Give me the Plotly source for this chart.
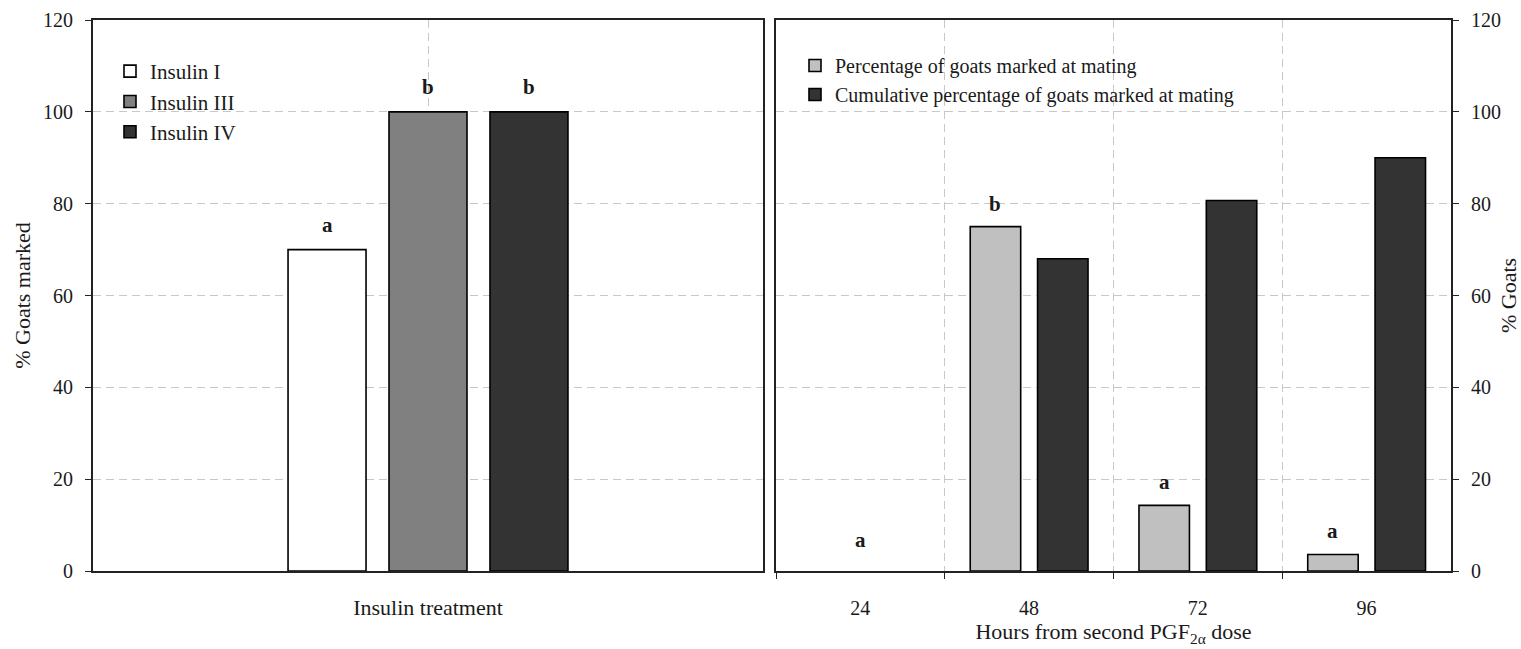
import plotly.graph_objects as go

# ---- data ----
treatment_label = "Insulin treatment"
insulin_groups = ["Insulin I", "Insulin III", "Insulin IV"]
goats_marked = [70, 100, 100]
marked_letters = ["a", "b", "b"]

hours = ["24", "48", "72", "96"]
pct_marked = [0, 75, 14.3, 3.6]
cum_pct_marked = [0, 68, 80.7, 90]
pct_letters = ["a", "b", "a", "a"]

y_ticks = [0, 20, 40, 60, 80, 100, 120]

# ---- styling ----
W, H = 1521, 649
FONT = "Liberation Serif"
INK = "#1a1a1a"
GRID = "#c8c8c8"
TEXT_SIZE = 22
NUM_SIZE = 20
LETTER_SIZE = 21
insulin_colors = ["#ffffff", "#808080", "#333333"]
hour_colors = ["#c0c0c0", "#333333"]


def px_x(p):
    return p / W


def px_y(p):
    return 1 - p / H


# panel geometry (pixels)
left_dom = [px_x(93), px_x(763)]
right_dom = [px_x(776), px_x(1451)]
y_dom = [px_y(571), px_y(20)]

fig = go.Figure()

# left panel: three bars grouped around the single category
slot_l, width_l = 0.1507, 0.1164
for i, (name, val, col) in enumerate(zip(insulin_groups, goats_marked, insulin_colors)):
    centre = (i - 1) * slot_l
    fig.add_trace(go.Bar(
        x=[treatment_label], y=[val], name=name,
        width=width_l, offset=centre - width_l / 2,
        marker=dict(color=col, line=dict(color="#000000", width=1.6)),
        xaxis="x", yaxis="y", legend="legend",
    ))
    fig.add_annotation(
        x=centre, y=val, xref="x", yref="y", text="<b>%s</b>" % marked_letters[i],
        showarrow=False, yshift=25, font=dict(family=FONT, size=LETTER_SIZE, color=INK),
    )

# right panel: percentage and cumulative percentage per time point
# (zero values leave an empty slot instead of a flat outlined bar)
slot_r, width_r = 0.399, 0.299
series = [("Percentage of goats marked at mating", pct_marked),
          ("Cumulative percentage of goats marked at mating", cum_pct_marked)]
for j, (name, vals) in enumerate(series):
    centre = (j - 0.5) * slot_r
    fig.add_trace(go.Bar(
        x=hours, y=[v if v != 0 else None for v in vals], name=name,
        width=width_r, offset=centre - width_r / 2,
        marker=dict(color=hour_colors[j], line=dict(color="#000000", width=1.6)),
        xaxis="x2", yaxis="y2", legend="legend2",
    ))

for k, (val, letter) in enumerate(zip(pct_marked, pct_letters)):
    zero = val == 0
    fig.add_annotation(
        x=k if zero else k - slot_r / 2, y=val, xref="x2", yref="y2",
        text="<b>%s</b>" % letter, showarrow=False, yshift=31 if zero else 23,
        font=dict(family=FONT, size=LETTER_SIZE, color=INK),
    )

axis_common = dict(
    showline=True, linecolor="#222222", linewidth=1.8, mirror=True,
    zeroline=False,
)
y_common = dict(
    range=[0, 120], tickvals=y_ticks, ticks="outside", ticklen=6,
    tickcolor="#222222", tickwidth=1.2,
    showgrid=True, gridcolor=GRID, griddash="8px,5px", gridwidth=1,
    ticklabelstandoff=8,
    tickfont=dict(family=FONT, size=NUM_SIZE, color=INK),
    **axis_common,
)

fig.update_layout(
    width=W, height=H,
    margin=dict(l=0, r=0, t=0, b=0),
    paper_bgcolor="#ffffff", plot_bgcolor="#ffffff",
    barmode="overlay",
    font=dict(family=FONT, size=TEXT_SIZE, color=INK),
    xaxis=dict(
        domain=left_dom, anchor="y", type="category",
        ticks="", showgrid=True, gridcolor=GRID, griddash="8px,5px",
        ticklabelstandoff=16, range=[-0.5, 0.5], automargin=False,
        tickfont=dict(family=FONT, size=TEXT_SIZE, color=INK),
        **axis_common,
    ),
    yaxis=dict(
        domain=y_dom, anchor="x", automargin=False,
        title=dict(text="% Goats marked", font=dict(family=FONT, size=TEXT_SIZE, color=INK), standoff=6),
        **y_common,
    ),
    xaxis2=dict(
        domain=right_dom, anchor="y2", type="category",
        tickson="boundaries", ticks="outside", ticklen=6, tickcolor="#222222",
        showgrid=True, gridcolor=GRID, griddash="8px,5px",
        ticklabelstandoff=18, range=[-0.5, 3.5], automargin=False,
        tickfont=dict(family=FONT, size=NUM_SIZE, color=INK),
        title=dict(text="Hours from second PGF<sub>2α</sub> dose",
                   font=dict(family=FONT, size=TEXT_SIZE, color=INK), standoff=5),
        **axis_common,
    ),
    yaxis2=dict(
        domain=y_dom, anchor="x2", side="right", automargin=False,
        title=dict(text="% Goats", font=dict(family=FONT, size=TEXT_SIZE, color=INK), standoff=11),
        **y_common,
    ),
    legend=dict(
        x=px_x(110), y=px_y(51), xanchor="left", yanchor="top",
        bgcolor="rgba(0,0,0,0)", font=dict(family=FONT, size=21, color=INK),
        traceorder="normal",
    ),
    legend2=dict(
        x=px_x(795), y=px_y(46), xanchor="left", yanchor="top",
        bgcolor="rgba(0,0,0,0)", font=dict(family=FONT, size=20, color=INK),
        traceorder="normal", tracegroupgap=0,
    ),
)

fig.write_html("out.html")
